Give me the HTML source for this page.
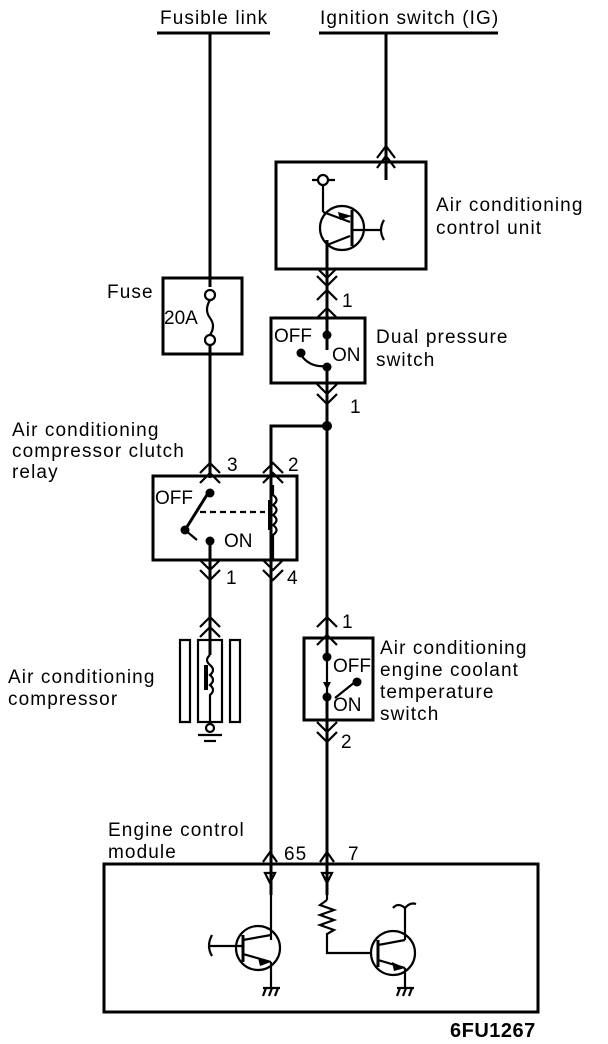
<!DOCTYPE html>
<html><head><meta charset="utf-8"><style>
html,body{margin:0;padding:0;background:#fff}
svg{display:block}
text{font-family:"Liberation Sans",sans-serif;font-size:19px;letter-spacing:1.1px;fill:#000}
</style></head><body>
<svg width="608" height="1044" viewBox="0 0 608 1044" xmlns="http://www.w3.org/2000/svg">
<g stroke="#000" fill="none" stroke-width="3">
<line x1="157" y1="33" x2="270" y2="33"/>
<line x1="319" y1="33" x2="498" y2="33"/>
<line x1="210" y1="33" x2="210" y2="287"/>
<line x1="386" y1="33" x2="386" y2="180"/>
<rect x="276" y="162" width="150" height="107"/>
<rect x="163" y="278" width="79" height="76"/>
<line x1="210" y1="345" x2="210" y2="478"/>
<rect x="271" y="318" width="94" height="65"/>
<rect x="153" y="476" width="144" height="84"/>
<rect x="304" y="638" width="69" height="82"/>
<rect x="104" y="864" width="434" height="148"/>
<line x1="327" y1="240" x2="327" y2="350"/>
<line x1="327" y1="368" x2="327" y2="660"/>
<line x1="327" y1="700" x2="327" y2="895"/>
<polyline points="327,426 271,426 271,895"/>
<line x1="210" y1="545" x2="210" y2="655"/>
</g>
<g stroke="#000" fill="none" stroke-width="2.2">
<path d="M377,158 L386,146 L395,158 M377,168 L386,156 L395,168"/>
<path d="M317,268 L327,278 L337,268 M317,276 L327,286 L337,276"/>
<path d="M317,300 L327,290 L337,300 M317,318 L327,308 L337,318"/>
<path d="M317,384 L327,394 L337,384 M317,394 L327,404 L337,394"/>
<path d="M200,473 L210,463 L220,473 M200,483 L210,473 L220,483"/>
<path d="M263,473 L273,463 L283,473 M263,483 L273,473 L283,483"/>
<path d="M200,560 L210,570 L220,560 M200,570 L210,580 L220,570"/>
<path d="M263,560 L273,570 L283,560 M263,570 L273,580 L283,570"/>
<path d="M200,627 L210,617 L220,627 M200,637 L210,627 L220,637"/>
<path d="M317,627 L327,617 L337,627 M317,645 L327,635 L337,645"/>
<path d="M317,722 L327,732 L337,722 M317,732 L327,742 L337,732"/>
<path d="M263,862 L270,852 L277,862"/>
<path d="M320,862 L327,852 L334,862"/>
<line x1="312" y1="180" x2="335" y2="180"/>
<circle cx="323" cy="180" r="5" fill="#fff"/>
<line x1="323" y1="185" x2="323" y2="212"/>
<circle cx="342" cy="228" r="22"/>
<line x1="352" y1="210" x2="352" y2="246" stroke-width="3"/>
<line x1="352" y1="230" x2="380" y2="230"/>
<path d="M384,220 Q378,230 384,240"/>
<line x1="323" y1="212" x2="350" y2="222"/>
<line x1="327" y1="245" x2="350" y2="236"/>
<circle cx="210" cy="295" r="5" fill="#fff"/>
<circle cx="210" cy="340" r="5" fill="#fff"/>
<path d="M210,300 Q204,310 210,318 Q216,326 210,335"/>
<path d="M301,355 Q310,368 327,366"/>
<line x1="210" y1="490" x2="185" y2="530" stroke-width="3"/>
<path d="M200,512 L265,512" stroke-dasharray="6,4"/>
<line x1="185" y1="530" x2="197" y2="540"/>
<path d="M273,485 L273,495 Q280,500 273,505 Q280,510 273,515 Q280,520 273,525 Q280,530 273,535 L273,560"/>
<line x1="270" y1="500" x2="270" y2="530" stroke-width="4"/>
<path d="M180,640 L180,722 L190,722 L190,640 Z"/>
<rect x="198" y="640" width="24" height="82"/>
<rect x="230" y="640" width="10" height="82"/>
<path d="M210,655 Q204,660 210,665 Q216,670 210,675 Q216,680 210,685 Q216,690 210,695 L210,725"/>
<line x1="206" y1="665" x2="206" y2="690" stroke-width="4"/>
<circle cx="210" cy="728" r="4" fill="#fff"/>
<line x1="198" y1="735" x2="222" y2="735"/>
<line x1="204" y1="741" x2="216" y2="741"/>
<line x1="327" y1="660" x2="327" y2="700"/>
<line x1="335" y1="698" x2="355" y2="682"/>
<path d="M265,873 L275,873 L270,883 Z"/>
<path d="M322,873 L332,873 L327,883 Z"/>
<line x1="271" y1="883" x2="271" y2="940"/>
<circle cx="258" cy="948" r="22"/>
<line x1="243" y1="935" x2="243" y2="962" stroke-width="3"/>
<line x1="208" y1="946" x2="243" y2="946"/>
<path d="M212,935 Q206,946 212,956"/>
<line x1="243" y1="940" x2="271" y2="935"/>
<line x1="243" y1="954" x2="271" y2="962"/>
<line x1="271" y1="962" x2="271" y2="988"/>
<path d="M263,988 L280,988 M263,996 L266,988 M269,996 L272,988 M275,996 L278,988"/>
<line x1="327" y1="883" x2="327" y2="900"/>
<path d="M327,900 L320,905 L334,910 L320,915 L334,920 L320,925 L334,930 L327,934 L327,953 L372,953"/>
<circle cx="393" cy="953" r="22"/>
<line x1="378" y1="940" x2="378" y2="967" stroke-width="3"/>
<line x1="378" y1="945" x2="405" y2="940"/>
<line x1="405" y1="940" x2="405" y2="908"/>
<path d="M393,908 Q398,902 405,908 Q410,902 416,904"/>
<line x1="378" y1="960" x2="405" y2="968"/>
<line x1="405" y1="968" x2="405" y2="988"/>
<path d="M397,988 L414,988 M397,996 L400,988 M403,996 L406,988 M409,996 L412,988"/>
</g>
<g fill="#000">
<circle cx="327" cy="335" r="4.5"/>
<circle cx="301" cy="353" r="4.5"/>
<circle cx="327" cy="367" r="4.5"/>
<circle cx="327" cy="426" r="5"/>
<circle cx="210" cy="493" r="4.5"/>
<circle cx="185" cy="530" r="4.5"/>
<circle cx="210" cy="541" r="4.5"/>
<circle cx="327" cy="657" r="4.5"/>
<circle cx="357" cy="682" r="4.5"/>
<circle cx="327" cy="697" r="4.5"/>
<path d="M323,682 L331,682 L327,690 Z"/>
<path d="M338,212 L352,216 L340,220 Z"/>
<path d="M258,958 L271,962 L260,966 Z"/>
<path d="M392,962 L405,968 L394,971 Z"/>
</g>
<text x="160" y="24">Fusible link</text>
<text x="320" y="24">Ignition switch (IG)</text>
<text x="436" y="211">Air conditioning</text>
<text x="436" y="234">control unit</text>
<text x="107" y="298">Fuse</text>
<text x="164" y="324" style="letter-spacing:0">20A</text>
<text x="342" y="307">1</text>
<text x="274" y="342" style="letter-spacing:0">OFF</text>
<text x="332" y="361" style="letter-spacing:0">ON</text>
<text x="376" y="343">Dual pressure</text>
<text x="376" y="366">switch</text>
<text x="350" y="413">1</text>
<text x="12" y="436">Air conditioning</text>
<text x="12" y="457">compressor clutch</text>
<text x="12" y="478">relay</text>
<text x="227" y="471">3</text>
<text x="288" y="471">2</text>
<text x="155" y="504" style="letter-spacing:0">OFF</text>
<text x="224" y="547" style="letter-spacing:0">ON</text>
<text x="226" y="584">1</text>
<text x="287" y="584">4</text>
<text x="8" y="683">Air conditioning</text>
<text x="8" y="705">compressor</text>
<text x="342" y="628">1</text>
<text x="333" y="672" style="letter-spacing:0">OFF</text>
<text x="333" y="711" style="letter-spacing:0">ON</text>
<text x="380" y="654">Air conditioning</text>
<text x="380" y="676">engine coolant</text>
<text x="380" y="698">temperature</text>
<text x="380" y="720">switch</text>
<text x="341" y="748">2</text>
<text x="108" y="836">Engine control</text>
<text x="108" y="858">module</text>
<text x="284" y="860">65</text>
<text x="348" y="860">7</text>
<text x="450" y="1037" style="font-weight:bold;font-size:20px;letter-spacing:0.5px">6FU1267</text>
</svg>
</body></html>
